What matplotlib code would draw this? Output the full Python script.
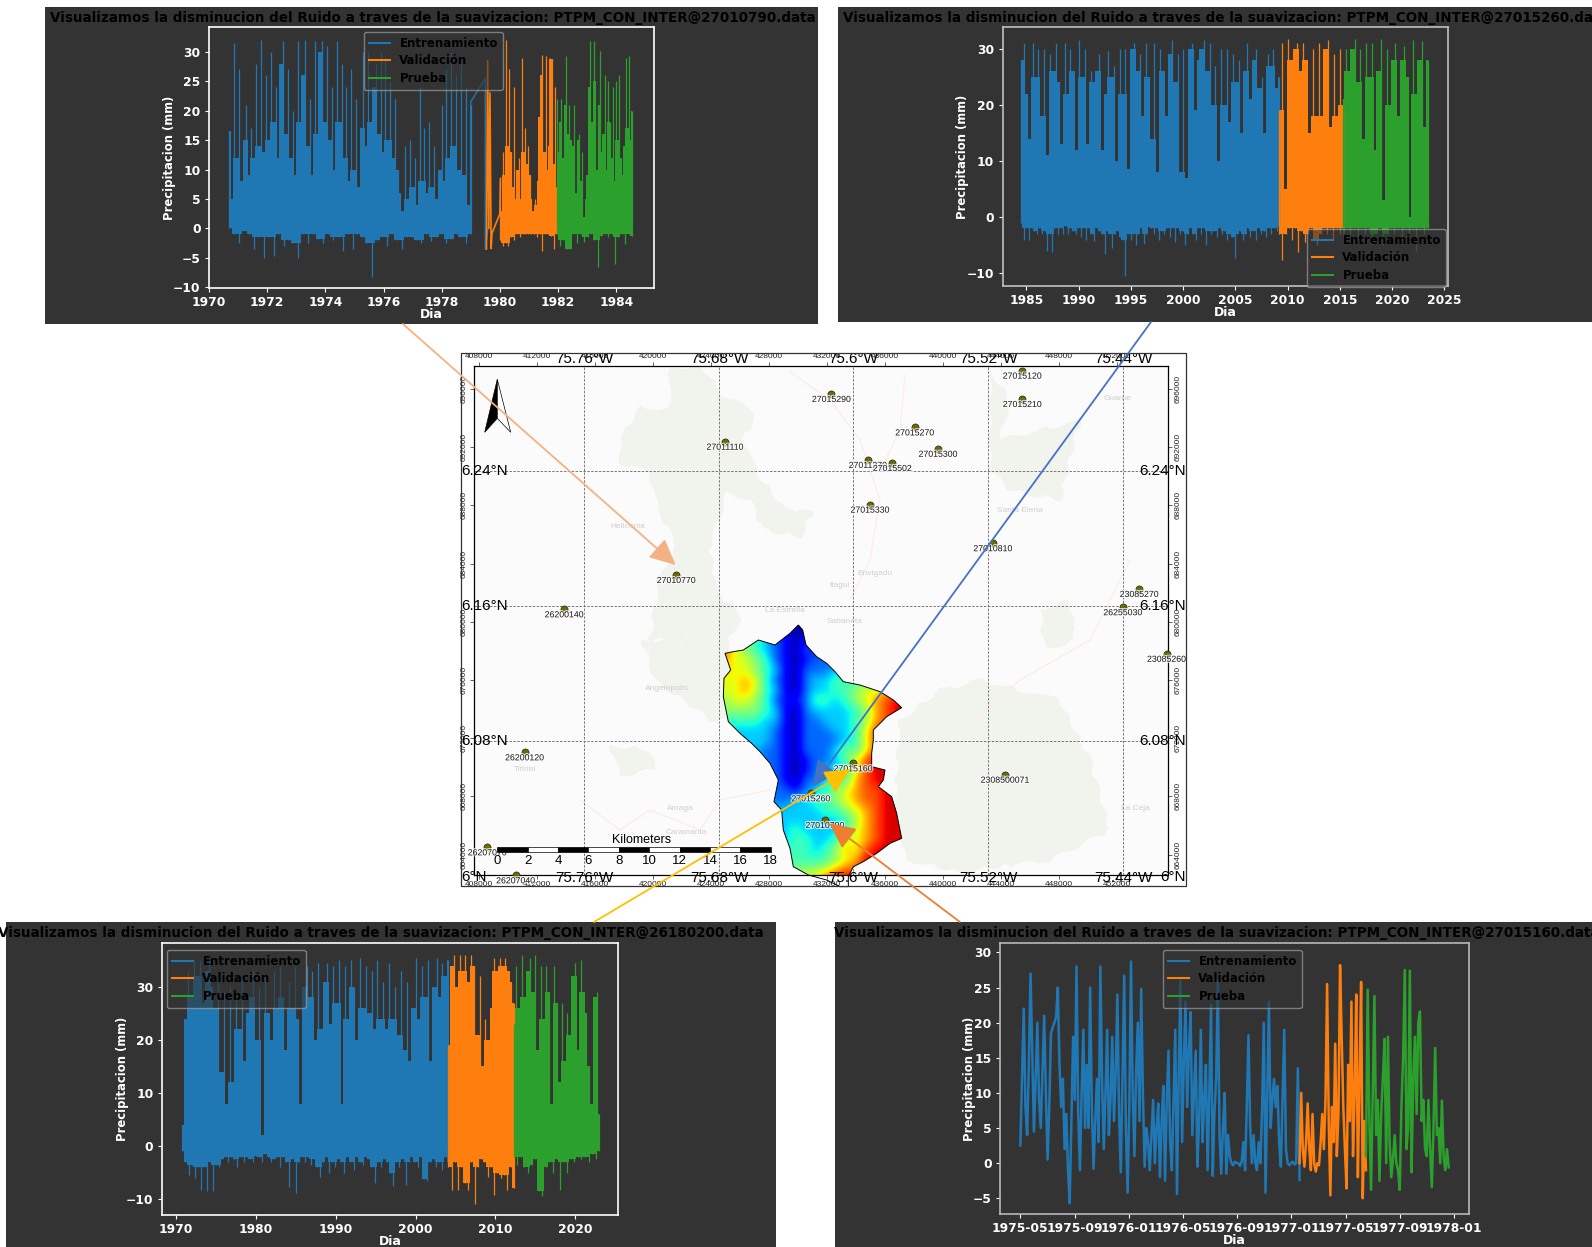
#!/usr/bin/env python3

import matplotlib
matplotlib.use('Agg')
import matplotlib.pyplot as plt
import matplotlib.patheffects as pe
import numpy as np
from matplotlib.patches import Polygon, Rectangle

W, H = 1592, 1247
BG = '#333333'
BLUE, ORANGE, GREEN = '#1f77b4', '#ff7f0e', '#2ca02c'
SPLITS = ['Entrenamiento', 'Validación', 'Prueba']
TITLE = 'Visualizamos la disminucion del Ruido a traves de la suavizacion: PTPM_CON_INTER@%s.data'

# Panel 1, station 27010790
p1_train_span = (1970.7, 1979.0)
p1_train_hi = [16.5, 5, 31.5, 12, 27, 8, 15, 21, 9, 17, 12, 28, 14, 32, 13, 26, 15, 30, 18, 24, 12, 28, 31.8, 16, 27, 12,
               20, 9, 31.8, 18, 26, 32, 14, 22, 9, 31.8, 16, 30, 31.9, 18, 31, 15, 24, 10, 31.8, 18, 28, 12, 24, 8, 27, 10,
               22, 7, 17, 30, 14, 30, 18, 24, 28, 16, 30, 13, 29, 15, 25, 12, 22, 10, 6, 3, 14, 5, 15, 7, 12, 4, 24, 8, 17,
               6, 18, 7, 14, 5, 10, 21, 8, 27, 12, 30, 14, 26, 10, 28, 9, 24, 4, 21]
p1_train_lo = [0.3, -1, -2.4, -0.5, -1, -3.5, -1.5, -5, -1.5, -4.7, -1, -3, -2, -2.5, -5, -1, -2.5, -1, -1.8, -2.5, -1, -2,
               -1.5, -3.8, -1, -3.5, -1, -1.5, -2.5, -8.2, -2, -1.5, -3, -1, -2, -3.5, -1.5, -1.5, -2, -2.5, -1, -2.2, -1.5,
               -1, -2.5, -1.8, -1, -1.5, -2.5, -1]
p1_gap_x = [1979.0, 1979.0, 1979.5, 1979.5, 1979.5, 1979.6]
p1_gap_y = [1.0, 21.5, 25.5, 22.0, -3.5, 0.5]
p1_val_x = [1979.54, 1979.58, 1979.62, 1979.66, 1979.7, 1979.73, 1980.0, 1980.02]
p1_val_y = [-3.5, 28.5, 0, 23, -3.4, -0.8, 2.5, 8.5]
p1_val_span = (1980.0, 1981.95)
p1_val_hi = [8, 3, 13, 9, 32, 14, 27, 13, 7, 24, 5, 10, 12, 5, 29, 13, 17, 11, 14, 9, 5, 3, 5, 4, 8, 19, 26, 29.5, 13, 29.2,
             10, 14, 29, 28.8, 11, 24, 7]
p1_val_lo = [-2, -3, -2.5, -3, -1.5, -2, -1, -1.5, -1, -1, -1, -1, -1, -1.5, -1, -3.8, -1, -1, -1.2, -3.4, -1]
p1_test_span = (1981.95, 1984.55)
p1_test_hi = [22, 13, 18, 22, 12, 21, 29.2, 16, 21, 15, 14, 21, 6, 15, 16, 8, 13, 2, 5, 9, 24, 31.8, 18, 31.8, 25, 10, 21,
              30.2, 13, 16, 26, 10, 25, 18, 12, 24, 8, 25, 15, 26, 12, 9, 14, 29, 17, 29.2, 15, 20]
p1_test_lo = [-1, -3, -2, -3.4, -3.4, -1, -2.5, -1, -2.3, -1.5, -1, -2, -6.5, -1.2, -1, -1.5, -1, -6, -1.5, -1, -2.6, -1, -1.2]

# Panel 2, station 27015260
p2_train_span = (1984.5, 2009.2)
p2_train_hi = [28, 31, 22, 14, 31, 25, 30, 18, 30, 11, 29, 26, 31, 24, 13, 31, 22, 30, 26, 12, 31.5, 25, 30, 13, 26, 24, 26,
               29, 12, 22, 29.5, 25, 27, 10, 30, 22, 30, 8.5, 30, 31, 26, 29, 18, 31, 25, 14, 31, 8, 30, 26, 18, 29, 31.5,
               24, 29, 8, 30, 7, 30, 31, 19, 28, 30, 31.5, 26, 31, 20, 27, 10, 30, 20, 30, 17, 29, 24, 28, 15, 26, 31, 21,
               28, 30, 23, 25, 15, 29, 27, 30, 23, 25]
p2_train_lo = [-1, -4, -2, -4, -2, -2.5, -3, -2, -3, -2.5, -6, -3, -6.2, -2, -3, -2, -3, -1.5, -3, -2, -2.5, -3, -2, -3.5, -2,
               -4, -2, -3, -4.2, -2, -2.5, -3, -6.5, -2.5, -3, -5.5, -3, -2.5, -3.5, -4, -10.5, -3, -4, -3, -5, -3, -2, -4.8,
               -3, -1.8, -2, -3, -2, -4, -2.5, -3, -2, -3.5, -2, -4.5, -2, -3, -2.5, -5, -3, -2, -3, -4, -2, -3, -2, -5, -2.5,
               -3, -2.5, -3.5, -2, -3, -2.5, -4, -3, -3.5, -7.2, -3, -2.5, -4, -3, -2, -3.5, -2.5, -4, -2, -3, -2.5, -3.5, -2,
               -3, -2, -2.5, -1.5]
p2_val_span = (2009.2, 2015.3)
p2_val_hi = [19, 31, 5, 31.8, 28, 30, 31, 26, 31, 28, 15, 30, 18, 31, 18, 30, 31.5, 16, 29, 18, 30, 20]
p2_val_lo = [-3, -7.6, -3, -2, -4, -2, -6.2, -2.5, -4.5, -3, -2, -4, -5, -3, -2, -3, -2, -4, -2, -3, -2]
p2_test_span = (2015.3, 2023.4)
p2_test_hi = [21, 30, 26, 30, 31.7, 24, 30, 14, 31, 25, 31, 12, 26, 31.7, 3, 30, 20, 28, 31, 18, 28, 30.5, 25, -1, 31.5, 22,
              28, 31.3, 16, 28]
p2_test_lo = [-3, -2, -3, -2, -4, -2, -3, -2, -5, -3, -2, -5, -3, -2, -3, -2, -4, -2, -3, -2, -6, -2, -3, -2]

# Panel 3, station 26180200
p3_train_span = (1970.8, 2004.1)
p3_train_hi = [4, 24, 33, 28, 35, 32, 35, 27, 33, 35, 30, 26, 31, 14, 29, 8, 30, 12, 28, 22, 32, 16, 25, 28, 33, 20, 30, 2,
               32, 25, 20, 33, 26, 34, 28, 18, 31, 26, 34, 24, 8, 30, 34, 28, 33, 20, 34.5, 22, 31, 34.5, 23, 34, 27, 35, 8,
               34, 24, 35, 30, 20, 35.5, 26, 34, 25, 33, 22, 35, 24, 31, 22, 34.5, 24, 30, 21, 33, 18, 31, 16, 26, 35.5, 24,
               34, 28, 35, 16, 30, 35.5, 28, 34.5, 32, 35]
p3_train_lo = [-1, -3, -5.5, -3.5, -6, -4, -8.3, -4, -8.4, -3, -8.5, -3.5, -4, -2.5, -2, -3, -2, -2.5, -4, -2, -3, -2, -2.5,
               -3, -1.8, -2, -3, -1.5, -2, -3, -2.5, -2, -4, -2, -3, -7.8, -2.5, -8.8, -3, -2, -3, -2, -3.5, -2.5, -4, -5.8,
               -3, -2, -5, -3, -4, -2.5, -3, -5, -2, -3, -4.5, -2, -3, -3.5, -2, -2.5, -4, -7, -3, -4, -2.5, -3, -5, -7.5, -3,
               -4, -2.5, -7.3, -3, -2, -3, -4, -2, -6.2, -6.5, -3, -2.5, -4, -3, -4.5, -2, -3]
p3_val_span = (2004.1, 2012.3)
p3_val_hi = [19, 34, 36, 30, 36, 33, 36, 31, 36, 34, 21, 32, 15, 24, 20, 26, 35.5, 33, 35.5, 34, 35.5, 33, 31, 27]
p3_val_lo = [-4, -8.2, -3, -8.3, -4, -7, -8.2, -3, -11, -4, -2.5, -3, -5.8, -4, -9.2, -5, -6, -5.5, -8.2, -4, -8]
p3_test_span = (2012.3, 2023.0)
p3_test_hi = [23, 34, 26, 36, 28, 33, 35.5, 29, 36, 18, 34, 24, 34, 29, 8, 34, 27, 12, 27, 16, 25, 21, 32, 34.5, 18, 35, 29,
              25, 15, 8, 28, 29, 6]
p3_test_lo = [-2, -3.5, -2, -4, -5, -3.5, -2.5, -8.5, -9.5, -4, -3, -5, -2.5, -8.2, -3, -5, -2.5, -3, -2, -2.5, -2, -3, -1.5,
              -2.5, -1]

# Panel 4, station 27015160, x in months after 1975-05
p4_train_span = (0.0, 20.6)
p4_train_y = [2.5, 12, 22, 8, 4, 14, 27, 16, 4.5, 12, 20, 9, 5, 13, 21, 10, 0.5, 8, 18.5, 19.3, 20, 20.8, 25, 14, 8, 12, 2, 7,
              -1, -5.7, 6, 18, 9, 28, 7, -1, 10, 19, 5, 14, 5, 25, 8, -0.8, 6, 12, 3, 28, 12, 2, 10, 19, 4, 9, 18, 6, 13, 24,
              7, -1.3, 12, 26.7, 5, -4.2, 8, 28.7, 10, 1, 13, 20, 6, 24.8, 10, -0.5, 5, 3, -1, 4, 9, 0, 5, 8.5, -2, 6, 11,
              -2.5, 9, 16, 3, -1, 9, 19, -4.4, 12, 26, 3, 14, 23, 8, 16, 21.5, 4, 10, 16, -0.5, 6, 19, 3, 9, 14, -1, 10, 22.5,
              -1.8, 7, 12, 26, 4, -1.5, 5, 10, -1.5, 4, 1, 0, -0.3, 0.2, 0, 0, -0.4, 0.2, 3, -1, 8, 18.2, 5, 0, 4, 0, -1, 3,
              0, 8, 20, -4.2, 9, 23, 5, 9, 12, 8, 11, 3, -0.5, 9, 19, 2, 0, -0.3, 0, 0.2, -0.2, 0, 13.5, -2.4]
p4_val_span = (20.6, 25.5)
p4_val_y = [0, 10, 2, -0.5, 3, 8.5, 2, -1, 7, 0, -1.2, 0, -0.3, 3, 7, 2, 9, 25.5, 6, -4.6, 8, 3, 17, 1, 7, 28.2, 18, 8, 2, -3.6,
            14, 6, 23, 1, 10, 24, -2, 12, 25.8, -5, 6, -1]
p4_test_span = (25.5, 31.6)
p4_test_y = [1, 24.7, 6, -3.8, 10, 23.8, 4, 9, -2.5, 7, 12, 17.7, 0, 18, 3, -2, 0.5, 4, 0, -1, -3.8, 8, 15, 27.5, 2, 5, 27.4,
             -1.3, 12, 18, 7, 20, 21.6, 6, 9, 2, 1, 9, 2, -3.4, 5, 16.4, 4, 5, 0, 8.9, 1, -1, 2, -0.6]

# Map: stations in UTM metres
station_ids = ['27015120', '27015210', '27015290', '27011110', '27015270', '27015300', '27011270', '27015502', '27015330',
               '27010810', '27010770', '26200140', '23085270', '26255030', '23085260', '26200120', '2308500071', '26207070',
               '26207040', '27015160', '27015260', '27010790']
station_e = [445476, 445476, 432310, 424986, 438055, 439662, 434828, 436510, 434972, 443448, 421607, 413883, 453531, 452407,
             455421, 411152, 444283, 408572, 410531, 433814, 430897, 431862]
station_n = [697265, 695313, 695663, 692378, 693360, 691890, 691127, 690914, 688055, 685402, 683216, 680859, 682260, 681003,
             677800, 671030, 669492, 664500, 662576, 670273, 668210, 666378]
lon_labels = ['75.76°W', '75.68°W', '75.6°W', '75.52°W', '75.44°W']
lon_e = [415241, 424552, 433793, 443103, 452414]
lat_labels = ['6.24°N', '6.16°N', '6.08°N']
lat_n = [690364, 681086, 671808]
utm_e_ticks = list(range(408000, 456000, 4000))
utm_n_ticks = list(range(664000, 700000, 4000))
scale_km = [0, 2, 4, 6, 8, 10, 12, 14, 16, 18]

dem_rows = ['555442100111111111',
            '665432101122222222',
            '865432102122222222',
            '766542101222222333',
            '766543102223333444',
            '667642102334444455',
            '667643102334456677',
            '566542112443456789',
            '555543102333345789',
            '444433102233345789',
            '333332102223346899',
            '333332102222346899',
            '333322102223546899',
            '333322101223468999',
            '333222101233468999',
            '333222102234478999',
            '333222212345678899',
            '333332233445678899',
            '444433333344567899',
            '444443333333457899',
            '444443343333467899',
            '444443344334667899',
            '444444444345768999',
            '555544444445679999',
            '555555455567889999',
            '666666666789999999',
            '666666666789999999']
basin_trace = [(295, 45), (308, 60), (318, 105), (350, 140), (380, 160), (405, 185), (430, 215), (480, 225), (540, 245),
               (580, 270), (605, 293), (560, 320), (520, 360), (520, 390), (515, 430), (515, 470), (555, 480), (550, 510),
               (535, 530), (575, 560), (590, 610), (605, 685), (570, 700), (530, 730), (490, 755), (460, 770), (445, 800),
               (445, 830), (420, 830), (380, 810), (325, 795), (280, 770), (270, 715), (250, 660), (245, 600), (222, 575),
               (235, 510), (210, 460), (180, 425), (155, 400), (120, 370), (85, 335), (70, 260), (72, 205), (92, 180),
               (75, 130), (100, 125), (130, 120), (175, 90), (225, 105), (270, 70)]

# Base map decoration, in figure pixels
forest_px = [
    [(670, 367), (703, 367), (720, 393), (757, 413), (743, 440), (757, 473), (783, 507), (813, 513), (800, 537), (763, 530),
     (750, 500), (727, 493), (710, 547), (717, 593), (743, 617), (727, 640), (650, 640), (660, 573), (677, 547), (657, 507),
     (650, 473), (620, 463), (620, 440), (640, 407), (670, 410)],
    [(642, 640), (727, 640), (740, 700), (718, 725), (690, 705), (655, 680)],
    [(900, 720), (940, 690), (980, 680), (1020, 690), (1060, 700), (1090, 760), (1110, 830), (1050, 860), (960, 872),
     (905, 860), (895, 800)],
    [(990, 370), (1010, 400), (1000, 440), (1040, 430), (1080, 420), (1060, 500), (1010, 490), (990, 470)],
    [(610, 745), (650, 750), (655, 770), (620, 775)],
    [(1040, 610), (1070, 600), (1075, 640), (1045, 650)],
]
road_px = [
    [(790, 372), (830, 400), (860, 440), (880, 500), (870, 560), (850, 600)],
    [(905, 375), (900, 430), (880, 470)],
    [(580, 800), (620, 830), (650, 810), (700, 830), (720, 800), (770, 790)],
    [(975, 720), (1020, 680), (1090, 640), (1130, 560)],
]
place_names = [('Heliconia', 628, 526), ('La Estrella', 785, 611), ('Sabaneta', 845, 621), ('Envigado', 875, 573),
               ('Angelopolis', 667, 688), ('Amaga', 680, 808), ('Titiribi', 525, 769), ('Guarne', 1118, 398),
               ('La Ceja', 1135, 808), ('Santa Elena', 1020, 510), ('Itagui', 840, 585), ('Caramanta', 686, 832)]


def box(left, top, right, bottom):
    return [left / W, 1 - bottom / H, (right - left) / W, (bottom - top) / H]


def to_e(px):
    return 408000 + (np.asarray(px, dtype=float) - 479) / 0.0145


def to_n(py):
    return 696000 - (np.asarray(py, dtype=float) - 389) / 0.01455


def to_utm(points):
    pts = np.array(points, dtype=float)
    return np.c_[to_e(pts[:, 0]), to_n(pts[:, 1])]


def shoulder(vals):
    # level of the solid part under the hairline spikes
    prev = np.r_[vals[0], vals[:-1]]
    nxt = np.r_[vals[1:], vals[-1]]
    return np.median(np.c_[prev, vals, nxt], axis=1)


def band(ax, span, hi, lo, color):
    # hi and lo come with their own sample counts
    hi = np.array(hi, dtype=float)
    lo = np.array(lo, dtype=float)
    xh = np.linspace(span[0], span[1], len(hi))
    xl = np.linspace(span[0], span[1], len(lo))
    ax.fill_between(xh, 0, np.minimum(hi, shoulder(hi)), color=color, lw=0, step='mid')
    ax.fill_between(xl, np.maximum(lo, shoulder(lo)), 0, color=color, lw=0, step='mid')
    ax.vlines(xh, 0, hi, color=color, lw=0.9)
    ax.vlines(xl, lo, 0, color=color, lw=0.9)


def style_panel(ax, xlim, ylim, spine):
    ax.set_facecolor(BG)
    ax.set_xlim(*xlim)
    ax.set_ylim(*ylim)
    for side in ax.spines.values():
        side.set_color(spine)
        side.set_linewidth(1.2)
    ax.tick_params(colors='white', labelsize=8.8, length=3, pad=3)
    for lab in ax.get_xticklabels() + ax.get_yticklabels():
        lab.set_fontweight('bold')
    ax.set_xlabel('Dia', color='white', fontweight='bold', fontsize=9, labelpad=-1)
    ax.set_ylabel('Precipitacion (mm)', color='white', fontweight='bold', fontsize=8.4, labelpad=-2)


def add_legend(ax, anchor):
    handles = [plt.Line2D([], [], color=c, lw=1.5) for c in (BLUE, ORANGE, GREEN)]
    leg = ax.legend(handles, SPLITS, loc='upper left', bbox_to_anchor=anchor, bbox_transform=fig.transFigure,
                    facecolor=BG, edgecolor='#b0b0b0', framealpha=0.6, labelcolor='black',
                    prop={'weight': 'bold', 'size': 8.5}, borderaxespad=0, handlelength=1.8, labelspacing=0.4)
    return leg


plt.rcParams['font.family'] = ['DejaVu Sans']
fig = plt.figure(figsize=(W / 100, H / 100), dpi=100, facecolor='white')

back = fig.add_axes([0, 0, 1, 1], zorder=-1)
back.set_xlim(0, W)
back.set_ylim(H, 0)
back.axis('off')

panel_boxes = [(45, 7, 818, 324), (838, 7, 1592, 322), (6, 922, 776, 1247), (835, 922, 1592, 1247)]
title_pos = [(50, '27010790', 18), (843, '27015260', 18), (-2, '26180200', 933), (834, '27015160', 933)]
for (l, t, r, b), (tx, sid, ty) in zip(panel_boxes, title_pos):
    rect = Rectangle((l, t), r - l, b - t, color=BG, lw=0)
    back.add_patch(rect)
    txt = back.text(tx, ty, TITLE % sid, color='black', fontweight='bold', fontsize=9.72, ha='left', va='center')
    txt.set_clip_path(rect)

# Panel 1
ax1 = fig.add_axes(box(209, 27, 654, 288))
band(ax1, p1_train_span, p1_train_hi, p1_train_lo, BLUE)
ax1.plot(p1_gap_x, p1_gap_y, color=BLUE, lw=1)
ax1.plot(p1_val_x, p1_val_y, color=ORANGE, lw=1.2)
band(ax1, p1_val_span, p1_val_hi, p1_val_lo, ORANGE)
band(ax1, p1_test_span, p1_test_hi, p1_test_lo, GREEN)
ax1.set_xticks(range(1970, 1986, 2))
ax1.set_yticks(range(-10, 31, 5))
style_panel(ax1, (1970.0, 1985.3), (-10.1, 34.2), 'white')
add_legend(ax1, (364 / W, 1 - 32 / H))

# Panel 2
ax2 = fig.add_axes(box(1002.5, 27, 1448, 286))
band(ax2, p2_train_span, p2_train_hi, p2_train_lo, BLUE)
band(ax2, p2_val_span, p2_val_hi, p2_val_lo, ORANGE)
band(ax2, p2_test_span, p2_test_hi, p2_test_lo, GREEN)
ax2.set_xticks(range(1985, 2026, 5))
ax2.set_yticks(range(-10, 31, 10))
style_panel(ax2, (1982.72, 2025.36), (-12.26, 33.86), '#c0c0c0')
add_legend(ax2, (1307 / W, 1 - 229 / H))

# Panel 3
ax3 = fig.add_axes(box(161.7, 943.3, 618.4, 1215))
band(ax3, p3_train_span, p3_train_hi, p3_train_lo, BLUE)
band(ax3, p3_val_span, p3_val_hi, p3_val_lo, ORANGE)
band(ax3, p3_test_span, p3_test_hi, p3_test_lo, GREEN)
ax3.set_xticks(range(1970, 2021, 10))
ax3.set_yticks(range(-10, 31, 10))
style_panel(ax3, (1968.2, 2025.4), (-13, 38.2), 'white')
add_legend(ax3, (167 / W, 1 - 950 / H))

# Panel 4
ax4 = fig.add_axes(box(1000, 943.3, 1469, 1214))
for span, vals, col in ((p4_train_span, p4_train_y, BLUE), (p4_val_span, p4_val_y, ORANGE), (p4_test_span, p4_test_y, GREEN)):
    ax4.plot(np.linspace(span[0], span[1], len(vals)), vals, color=col, lw=1.8)
ax4.set_xticks(range(0, 33, 4))
ax4.set_xticklabels(['1975-05', '1975-09', '1976-01', '1976-05', '1976-09', '1977-01', '1977-05', '1977-09', '1978-01'])
ax4.set_yticks(range(-5, 31, 5))
style_panel(ax4, (-1.5, 33.1), (-7.24, 31.3), '#b8b8b8')
add_legend(ax4, (1163 / W, 1 - 950 / H))

# Map
ax = fig.add_axes(box(474, 366, 1168, 875))
ax.set_facecolor('#fbfbfb')
ax.set_xlim(to_e(474), to_e(1168))
ax.set_ylim(to_n(875), to_n(366))
for pts in forest_px:
    patch = Polygon(to_utm(pts), closed=True, color='#f0f4ed', lw=0)
    patch.set_sketch_params(scale=2, length=60, randomness=8)
    ax.add_patch(patch)
for pts in road_px:
    line = to_utm(pts)
    ax.plot(line[:, 0], line[:, 1], color='#fbeee6', lw=1.0)
for name, px, py in place_names:
    ax.text(to_e(px), to_n(py), name, color='#cfcfcf', fontsize=6, ha='center', va='center', family='Liberation Sans')

for e in lon_e:
    ax.axvline(e, color='#777777', lw=0.7, ls=(0, (2.5, 1.5)))
for n in lat_n:
    ax.axhline(n, color='#777777', lw=0.7, ls=(0, (2.5, 1.5)))

dem = np.array([[int(c) for c in row] for row in dem_rows], dtype=float)
basin = to_utm([(700 + x / 3, 610 + y / 3) for x, y in basin_trace])
outline = Polygon(basin, closed=True, fc='none', ec='black', lw=0.7, clip_on=False, zorder=3)
ax.add_patch(outline)
im = ax.imshow(dem, extent=(to_e(720), to_e(900), to_n(625 + 10 * len(dem_rows)), to_n(625)), cmap='jet', vmin=-0.3, vmax=9.8,
               interpolation='bicubic', aspect='auto', zorder=2)
im.set_clip_path(outline)
ax.set_xlim(to_e(474), to_e(1168))
ax.set_ylim(to_n(875), to_n(366))

ax.set_xticks(utm_e_ticks)
ax.set_yticks(utm_n_ticks)
ax.tick_params(top=True, right=True, labeltop=True, labelright=True, length=3, width=0.5, labelsize=6, pad=1.5, colors='#222222')
for lab in ax.get_xticklabels() + ax.get_yticklabels():
    lab.set_family('Liberation Sans')
for lab in ax.get_yticklabels():
    lab.set_rotation(90)
    lab.set_va('center')
for side in ax.spines.values():
    side.set_linewidth(0.9)

halo = [pe.withStroke(linewidth=1.6, foreground='white', alpha=0.75)]
ax.scatter(station_e, station_n, s=26, c='#6e6a00', edgecolors='#222222', linewidths=0.5, zorder=4, clip_on=False)
for sid, e, n in zip(station_ids, station_e, station_n):
    ax.annotate(sid, (e, n), xytext=(0, -1), textcoords='offset pixels', ha='center', va='top', fontsize=6.3,
                family='Liberation Sans', color='#222222', zorder=5, path_effects=halo, annotation_clip=False)

map_font = dict(family='Liberation Sans', fontsize=11, color='black', zorder=6, clip_on=False)
top_tr = ax.get_xaxis_transform()
for e, lab in zip(lon_e, lon_labels):
    ax.text(e, 1.013, lab, transform=top_tr, ha='center', va='center', **map_font)
    ax.text(e, -0.006, lab, transform=top_tr, ha='center', va='center', **map_font)
side_tr = ax.get_yaxis_transform()
for n, lab in zip(lat_n, lat_labels):
    ax.text(-0.019, n, lab, transform=side_tr, ha='left', va='center', **map_font)
    ax.text(1.026, n, lab, transform=side_tr, ha='right', va='center', **map_font)
ax.text(-0.019, -0.004, '6°N', transform=ax.transAxes, ha='left', va='center', **map_font)
ax.text(1.026, -0.004, '6°N', transform=ax.transAxes, ha='right', va='center', **map_font)

# Overlay in figure pixels: frame, north arrow, scale bar, callout arrows
top = fig.add_axes([0, 0, 1, 1], zorder=5)
top.set_xlim(0, W)
top.set_ylim(H, 0)
top.axis('off')
top.patch.set_alpha(0)
top.add_patch(Rectangle((461, 353), 725, 533, fc='none', ec='#333333', lw=0.9))
top.add_patch(Polygon([(497.3, 379.3), (484.7, 432.3), (497.3, 418.3)], closed=True, fc='black', ec='black', lw=0.5))
top.add_patch(Polygon([(497.3, 379.3), (510.7, 432.3), (497.3, 418.3)], closed=True, fc='white', ec='black', lw=0.5))

km_px = 15.19
bar_x = 497.3
for i, km in enumerate(scale_km[:-1]):
    top.add_patch(Rectangle((bar_x + km * km_px, 847.3), 2 * km_px, 5, fc='black' if i % 2 == 0 else 'white', ec='black', lw=0.5))
for km in scale_km:
    top.text(bar_x + km * km_px, 860.5, str(km), ha='center', va='center', family='Liberation Sans', fontsize=9.5)
top.text(642, 840, 'Kilometers', ha='center', va='center', family='Liberation Sans', fontsize=9)

callouts = [((403, 324), (675.7, 565), '#f4b183'), ((1151, 322), (812.7, 786.7), '#4472c4'),
            ((594, 922), (850.7, 769.3), '#ffc000'), ((960, 922), (829.3, 823.3), '#ed7d31')]
for start, tip, col in callouts:
    top.annotate('', xy=tip, xytext=start, arrowprops=dict(arrowstyle='-|>,head_width=0.38,head_length=0.8', color=col, lw=1.3,
                                                           mutation_scale=20, shrinkA=0, shrinkB=0))

fig.savefig('out.png', dpi=100)
